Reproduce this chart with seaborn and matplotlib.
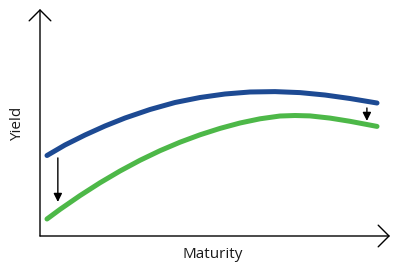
import matplotlib
matplotlib.use("Agg")
import matplotlib.pyplot as plt
import seaborn as sns
import pandas as pd

# Data (arbitrary units: maturity 0-100, yield 0-100)
blue_maturity = [2.0, 7.14, 12.86, 18.57, 24.29, 31.43, 38.57, 45.71, 52.86, 60.0,
                 67.14, 74.29, 81.43, 88.57, 96.29]
blue_yield = [35.46, 40.09, 44.49, 48.46, 51.98, 55.73, 58.81, 61.01, 62.56, 63.44,
              63.61, 63.17, 62.11, 60.57, 58.59]

green_maturity = [2.0, 5.71, 11.43, 17.14, 22.86, 28.57, 34.29, 40.0, 45.71, 51.43,
                  57.14, 62.86, 68.57, 72.86, 77.14, 82.86, 88.57, 96.29]
green_yield = [7.49, 11.72, 17.80, 23.44, 28.63, 33.35, 37.58, 41.32, 44.58, 47.40,
               49.78, 51.63, 52.86, 53.08, 52.91, 51.94, 50.53, 48.28]

shift_maturity = [5.1, 93.4]
shift_from = [34.4, 56.4]
shift_to = [15.0, 50.7]

x_label = "Maturity"
y_label = "Yield"

blue_color = "#1d4a93"
green_color = "#4db848"

sns.set_theme(style="white")
plt.rcParams["font.family"] = ["Open Sans", "DejaVu Sans"]

fig = plt.figure(figsize=(4.0, 2.68), dpi=100)
ax = fig.add_axes([0.1, 0.1194, 0.875, 0.847])

df_blue = pd.DataFrame({"maturity": blue_maturity, "yield": blue_yield})
df_green = pd.DataFrame({"maturity": green_maturity, "yield": green_yield})

sns.lineplot(data=df_blue, x="maturity", y="yield", ax=ax, color=blue_color,
             lw=3.6, sort=False, solid_capstyle="round", solid_joinstyle="round")
sns.lineplot(data=df_green, x="maturity", y="yield", ax=ax, color=green_color,
             lw=3.6, sort=False, solid_capstyle="round", solid_joinstyle="round")

for m, y0, y1 in zip(shift_maturity, shift_from, shift_to):
    ax.annotate("", xy=(m, y1), xytext=(m, y0),
                arrowprops=dict(arrowstyle="-|>,head_length=0.5,head_width=0.25",
                                color="black", lw=1.0, shrinkA=0, shrinkB=0,
                                mutation_scale=10))

ax.set_xlim(0, 100)
ax.set_ylim(0, 100)
ax.set_xticks([])
ax.set_yticks([])
for s in ax.spines.values():
    s.set_visible(False)
ax.set_xlabel("")
ax.set_ylabel("")
ax.patch.set_alpha(0)

# axis lines with open arrowheads
arrow_kw = dict(arrowstyle="->,head_length=0.65,head_width=0.65", color="black",
                lw=1.0, shrinkA=0, shrinkB=0)
ax.annotate("", xy=(1, 0), xytext=(0, 0), xycoords="axes fraction",
            textcoords="axes fraction", arrowprops=arrow_kw, annotation_clip=False)
ax.annotate("", xy=(0, 1), xytext=(0, 0), xycoords="axes fraction",
            textcoords="axes fraction", arrowprops=arrow_kw, annotation_clip=False)

fig.text(213 / 400, 1 - 255 / 268, x_label, ha="center", va="center", fontsize=11, color="#1a1a1a")
fig.text(18 / 400, 1 - 124 / 268, y_label, ha="center", va="center", rotation=90, fontsize=11, color="#1a1a1a")

fig.savefig("out.png", dpi=100)
